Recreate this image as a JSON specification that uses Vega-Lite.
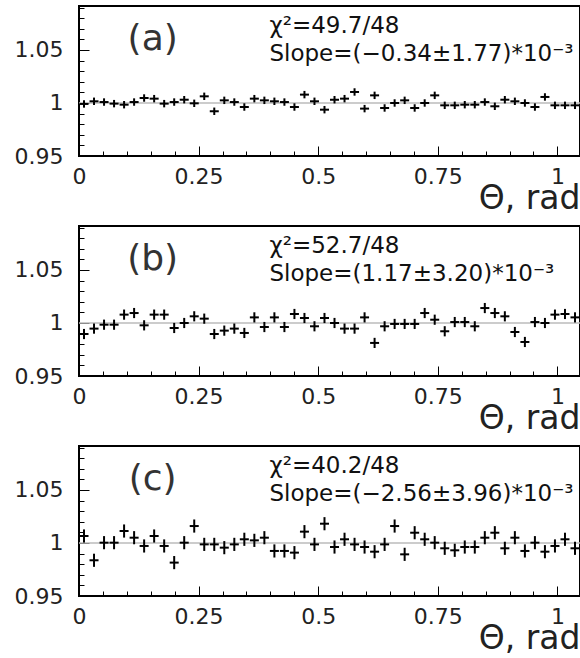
{
  "$schema": "https://vega.github.io/schema/vega-lite/v6.json",
  "padding": {"left": 13, "top": 5, "right": 0, "bottom": 0},
  "spacing": 9,
  "config": {
    "view": {"stroke": "black", "strokeWidth": 2},
    "font": "DejaVu Sans",
    "axis": {"grid": false, "domain": false, "labelFont": "DejaVu Sans", "titleFont": "DejaVu Sans"}
  },
  "datasets": {
    "a": [
      {"x": 0.010472, "y": 0.9991, "err": 0.0035}, {"x": 0.031416, "y": 1.0016, "err": 0.0035}, {"x": 0.05236, "y": 1.0009, "err": 0.0035}, {"x": 0.073304, "y": 0.9994, "err": 0.0035}, {"x": 0.094248, "y": 0.9984, "err": 0.0035},
      {"x": 0.115192, "y": 1.0009, "err": 0.0035}, {"x": 0.136136, "y": 1.0047, "err": 0.0035}, {"x": 0.15708, "y": 1.0041, "err": 0.0035}, {"x": 0.178024, "y": 0.9994, "err": 0.0035}, {"x": 0.198968, "y": 1.0009, "err": 0.0035},
      {"x": 0.219912, "y": 1.0031, "err": 0.0035}, {"x": 0.240856, "y": 0.9997, "err": 0.0035}, {"x": 0.2618, "y": 1.0063, "err": 0.0035}, {"x": 0.282744, "y": 0.9922, "err": 0.0035}, {"x": 0.303688, "y": 1.0025, "err": 0.0035},
      {"x": 0.324632, "y": 1.0009, "err": 0.0035}, {"x": 0.345576, "y": 0.9962, "err": 0.0035}, {"x": 0.36652, "y": 1.0041, "err": 0.0035}, {"x": 0.387464, "y": 1.0025, "err": 0.0035}, {"x": 0.408408, "y": 1.0016, "err": 0.0035},
      {"x": 0.429352, "y": 1.0009, "err": 0.0035}, {"x": 0.450296, "y": 0.9962, "err": 0.0035}, {"x": 0.47124, "y": 1.0079, "err": 0.0035}, {"x": 0.492184, "y": 1.0016, "err": 0.0035}, {"x": 0.513128, "y": 0.9937, "err": 0.0035},
      {"x": 0.534072, "y": 1.0031, "err": 0.0035}, {"x": 0.555016, "y": 1.0041, "err": 0.0035}, {"x": 0.57596, "y": 1.0104, "err": 0.0035}, {"x": 0.596904, "y": 0.9947, "err": 0.0035}, {"x": 0.617848, "y": 1.0072, "err": 0.0035},
      {"x": 0.638792, "y": 0.9953, "err": 0.0035}, {"x": 0.659736, "y": 1.0, "err": 0.0035}, {"x": 0.68068, "y": 1.0025, "err": 0.0035}, {"x": 0.701624, "y": 0.9953, "err": 0.0035}, {"x": 0.722568, "y": 1.0, "err": 0.0035},
      {"x": 0.743512, "y": 1.0072, "err": 0.0035}, {"x": 0.764456, "y": 0.9978, "err": 0.0035}, {"x": 0.7854, "y": 0.9978, "err": 0.0035}, {"x": 0.806344, "y": 0.9984, "err": 0.0035}, {"x": 0.827288, "y": 0.9984, "err": 0.0035},
      {"x": 0.848232, "y": 1.0009, "err": 0.0035}, {"x": 0.869176, "y": 0.9969, "err": 0.0035}, {"x": 0.89012, "y": 1.0031, "err": 0.0035}, {"x": 0.911064, "y": 1.0016, "err": 0.0035}, {"x": 0.932008, "y": 1.0, "err": 0.0035},
      {"x": 0.952952, "y": 0.9962, "err": 0.0035}, {"x": 0.973896, "y": 1.0057, "err": 0.0035}, {"x": 0.99484, "y": 0.9978, "err": 0.0035}, {"x": 1.015784, "y": 0.9978, "err": 0.0035}, {"x": 1.036728, "y": 0.9978, "err": 0.0035}
    ],
    "b": [
      {"x": 0.010472, "y": 0.9896, "err": 0.0048}, {"x": 0.031416, "y": 0.9947, "err": 0.0048}, {"x": 0.05236, "y": 0.9984, "err": 0.0048}, {"x": 0.073304, "y": 0.9984, "err": 0.0048}, {"x": 0.094248, "y": 1.0079, "err": 0.0048},
      {"x": 0.115192, "y": 1.0094, "err": 0.0048}, {"x": 0.136136, "y": 0.9978, "err": 0.0048}, {"x": 0.15708, "y": 1.0079, "err": 0.0048}, {"x": 0.178024, "y": 1.0079, "err": 0.0048}, {"x": 0.198968, "y": 0.9953, "err": 0.0048},
      {"x": 0.219912, "y": 1.0, "err": 0.0048}, {"x": 0.240856, "y": 1.0063, "err": 0.0048}, {"x": 0.2618, "y": 1.0041, "err": 0.0048}, {"x": 0.282744, "y": 0.9896, "err": 0.0048}, {"x": 0.303688, "y": 0.9928, "err": 0.0048},
      {"x": 0.324632, "y": 0.9947, "err": 0.0048}, {"x": 0.345576, "y": 0.9906, "err": 0.0048}, {"x": 0.36652, "y": 1.0053, "err": 0.0048}, {"x": 0.387464, "y": 0.9962, "err": 0.0048}, {"x": 0.408408, "y": 1.0053, "err": 0.0048},
      {"x": 0.429352, "y": 0.9962, "err": 0.0048}, {"x": 0.450296, "y": 1.0085, "err": 0.0048}, {"x": 0.47124, "y": 1.0047, "err": 0.0048}, {"x": 0.492184, "y": 0.9969, "err": 0.0048}, {"x": 0.513128, "y": 1.0047, "err": 0.0048},
      {"x": 0.534072, "y": 1.0, "err": 0.0048}, {"x": 0.555016, "y": 0.9947, "err": 0.0048}, {"x": 0.57596, "y": 0.9947, "err": 0.0048}, {"x": 0.596904, "y": 1.0053, "err": 0.0048}, {"x": 0.617848, "y": 0.9812, "err": 0.0048},
      {"x": 0.638792, "y": 0.9969, "err": 0.0048}, {"x": 0.659736, "y": 0.9991, "err": 0.0048}, {"x": 0.68068, "y": 0.9991, "err": 0.0048}, {"x": 0.701624, "y": 0.9991, "err": 0.0048}, {"x": 0.722568, "y": 1.0094, "err": 0.0048},
      {"x": 0.743512, "y": 1.0031, "err": 0.0048}, {"x": 0.764456, "y": 0.9922, "err": 0.0048}, {"x": 0.7854, "y": 1.0009, "err": 0.0048}, {"x": 0.806344, "y": 1.0009, "err": 0.0048}, {"x": 0.827288, "y": 0.9969, "err": 0.0048},
      {"x": 0.848232, "y": 1.0141, "err": 0.0048}, {"x": 0.869176, "y": 1.0094, "err": 0.0048}, {"x": 0.89012, "y": 1.0063, "err": 0.0048}, {"x": 0.911064, "y": 0.9915, "err": 0.0048}, {"x": 0.932008, "y": 0.9821, "err": 0.0048},
      {"x": 0.952952, "y": 1.0009, "err": 0.0048}, {"x": 0.973896, "y": 1.0, "err": 0.0048}, {"x": 0.99484, "y": 1.0079, "err": 0.0048}, {"x": 1.015784, "y": 1.0085, "err": 0.0048}, {"x": 1.036728, "y": 1.0053, "err": 0.0048}
    ],
    "c": [
      {"x": 0.010472, "y": 1.0066, "err": 0.0062}, {"x": 0.031416, "y": 0.9837, "err": 0.0062}, {"x": 0.05236, "y": 1.0003, "err": 0.0062}, {"x": 0.073304, "y": 1.0003, "err": 0.0062}, {"x": 0.094248, "y": 1.0113, "err": 0.0062},
      {"x": 0.115192, "y": 1.005, "err": 0.0062}, {"x": 0.136136, "y": 0.9972, "err": 0.0062}, {"x": 0.15708, "y": 1.0066, "err": 0.0062}, {"x": 0.178024, "y": 0.9972, "err": 0.0062}, {"x": 0.198968, "y": 0.9815, "err": 0.0062},
      {"x": 0.219912, "y": 1.0003, "err": 0.0062}, {"x": 0.240856, "y": 1.016, "err": 0.0062}, {"x": 0.2618, "y": 0.9987, "err": 0.0062}, {"x": 0.282744, "y": 0.9987, "err": 0.0062}, {"x": 0.303688, "y": 0.9956, "err": 0.0062},
      {"x": 0.324632, "y": 0.9987, "err": 0.0062}, {"x": 0.345576, "y": 1.0035, "err": 0.0062}, {"x": 0.36652, "y": 1.0025, "err": 0.0062}, {"x": 0.387464, "y": 1.005, "err": 0.0062}, {"x": 0.408408, "y": 0.9925, "err": 0.0062},
      {"x": 0.429352, "y": 0.9925, "err": 0.0062}, {"x": 0.450296, "y": 0.9909, "err": 0.0062}, {"x": 0.47124, "y": 1.0107, "err": 0.0062}, {"x": 0.492184, "y": 0.9987, "err": 0.0062}, {"x": 0.513128, "y": 1.0182, "err": 0.0062},
      {"x": 0.534072, "y": 0.9962, "err": 0.0062}, {"x": 0.555016, "y": 1.0035, "err": 0.0062}, {"x": 0.57596, "y": 0.9987, "err": 0.0062}, {"x": 0.596904, "y": 0.9962, "err": 0.0062}, {"x": 0.617848, "y": 0.9918, "err": 0.0062},
      {"x": 0.638792, "y": 0.9987, "err": 0.0062}, {"x": 0.659736, "y": 1.016, "err": 0.0062}, {"x": 0.68068, "y": 0.9893, "err": 0.0062}, {"x": 0.701624, "y": 1.0097, "err": 0.0062}, {"x": 0.722568, "y": 1.0035, "err": 0.0062},
      {"x": 0.743512, "y": 1.0003, "err": 0.0062}, {"x": 0.764456, "y": 0.995, "err": 0.0062}, {"x": 0.7854, "y": 0.9931, "err": 0.0062}, {"x": 0.806344, "y": 0.9962, "err": 0.0062}, {"x": 0.827288, "y": 0.9962, "err": 0.0062},
      {"x": 0.848232, "y": 1.005, "err": 0.0062}, {"x": 0.869176, "y": 1.0097, "err": 0.0062}, {"x": 0.89012, "y": 0.995, "err": 0.0062}, {"x": 0.911064, "y": 1.005, "err": 0.0062}, {"x": 0.932008, "y": 0.9925, "err": 0.0062},
      {"x": 0.952952, "y": 1.0003, "err": 0.0062}, {"x": 0.973896, "y": 0.9918, "err": 0.0062}, {"x": 0.99484, "y": 0.9972, "err": 0.0062}, {"x": 1.015784, "y": 1.0035, "err": 0.0062}, {"x": 1.036728, "y": 0.995, "err": 0.0062}
    ]
  },
  "vconcat": [
    {
      "width": 501, "height": 150,
      "resolve": {"scale": {"x": "independent", "y": "independent"}, "axis": {"x": "independent", "y": "independent"}},
      "layer": [
        {"data": {"values": [{}]}, "mark": {"type": "rule", "color": "#bbbbbb", "strokeWidth": 1.5},
         "encoding": {
           "y": {"datum": 1, "type": "quantitative", "scale": {"domain": [0.95, 1.0915], "nice": false, "zero": false}, "axis": null}
         }},
        {"data": {"name": "a"}, "mark": {"type": "errorbar", "color": "black", "thickness": 2},
         "encoding": {
           "x": {"field": "x", "type": "quantitative", "scale": {"domain": [0, 1.0472], "nice": false, "zero": false}, "axis": null},
           "y": {"field": "y", "type": "quantitative", "scale": {"domain": [0.95, 1.0915], "nice": false, "zero": false}, "axis": null},
           "yError": {"field": "err"}
         }},
        {"data": {"name": "a"}, "mark": {"type": "tick", "orient": "horizontal", "color": "black", "thickness": 2, "size": 9, "opacity": 1},
         "encoding": {
           "x": {"field": "x", "type": "quantitative", "scale": {"domain": [0, 1.0472], "nice": false, "zero": false}, "axis": {"orient": "bottom", "values": [0, 0.25, 0.5, 0.75, 1], "format": ".2~f", "ticks": false, "labelPadding": 10, "labelFontSize": 22, "labelColor": "#222", "labelFlush": false, "labelOverlap": false, "title": "Θ, rad", "titleFontSize": 33, "titleFontWeight": "normal", "titleColor": "#222", "titleAnchor": "end", "titleAlign": "right", "titlePadding": -5}},
           "y": {"field": "y", "type": "quantitative", "scale": {"domain": [0.95, 1.0915], "nice": false, "zero": false}, "axis": {"orient": "left", "values": [0.95, 1, 1.05], "format": ".2~f", "ticks": false, "labelPadding": 16, "labelFontSize": 22, "labelColor": "#222", "labelFlush": false, "labelOverlap": false, "title": null}}
         }},
        {"data": {"values": [{"label": "(a)", "x": 0.154, "y": 1.05}]}, "mark": {"type": "text", "fontSize": 36, "align": "center", "baseline": "alphabetic", "color": "#333"},
         "encoding": {
           "x": {"field": "x", "type": "quantitative", "scale": {"domain": [0, 1.0472], "nice": false, "zero": false}, "axis": {"orient": "bottom", "offset": -10, "values": [0, 0.25, 0.5, 0.75, 1], "labels": false, "tickSize": 10, "tickColor": "black", "tickWidth": 1, "title": null}},
           "y": {"field": "y", "type": "quantitative", "scale": {"domain": [0.95, 1.0915], "nice": false, "zero": false}, "axis": {"orient": "left", "offset": -10, "values": [0.95, 1, 1.05], "labels": false, "tickSize": 10, "tickColor": "black", "tickWidth": 1, "title": null}},
           "text": {"field": "label"}
         }},
        {"data": {"values": [{"label": "χ²=49.7/48\nSlope=(−0.34±1.77)*10⁻³", "x": 0.398, "y": 1.066}]}, "mark": {"type": "text", "fontSize": 23, "align": "left", "baseline": "alphabetic", "color": "#111", "lineBreak": "\n", "lineHeight": 28},
         "encoding": {
           "x": {"field": "x", "type": "quantitative", "scale": {"domain": [0, 1.0472], "nice": false, "zero": false}, "axis": {"orient": "bottom", "offset": -5, "values": [0.05,0.1,0.15,0.2,0.3,0.35,0.4,0.45,0.55,0.6,0.65,0.7,0.8,0.85,0.9,0.95,1.0], "labels": false, "tickSize": 5, "tickColor": "black", "tickWidth": 1, "title": null}},
           "y": {"field": "y", "type": "quantitative", "scale": {"domain": [0.95, 1.0915], "nice": false, "zero": false}, "axis": {"orient": "left", "offset": -5, "values": [0.96,0.97,0.98,0.99,1.01,1.02,1.03,1.04,1.06,1.07,1.08,1.09], "labels": false, "tickSize": 5, "tickColor": "black", "tickWidth": 1, "title": null}},
           "text": {"field": "label"}
         }}
      ]
    },
    {
      "width": 501, "height": 150,
      "resolve": {"scale": {"x": "independent", "y": "independent"}, "axis": {"x": "independent", "y": "independent"}},
      "layer": [
        {"data": {"values": [{}]}, "mark": {"type": "rule", "color": "#bbbbbb", "strokeWidth": 1.5},
         "encoding": {
           "y": {"datum": 1, "type": "quantitative", "scale": {"domain": [0.95, 1.0915], "nice": false, "zero": false}, "axis": null}
         }},
        {"data": {"name": "b"}, "mark": {"type": "errorbar", "color": "black", "thickness": 2},
         "encoding": {
           "x": {"field": "x", "type": "quantitative", "scale": {"domain": [0, 1.0472], "nice": false, "zero": false}, "axis": null},
           "y": {"field": "y", "type": "quantitative", "scale": {"domain": [0.95, 1.0915], "nice": false, "zero": false}, "axis": null},
           "yError": {"field": "err"}
         }},
        {"data": {"name": "b"}, "mark": {"type": "tick", "orient": "horizontal", "color": "black", "thickness": 2, "size": 9, "opacity": 1},
         "encoding": {
           "x": {"field": "x", "type": "quantitative", "scale": {"domain": [0, 1.0472], "nice": false, "zero": false}, "axis": {"orient": "bottom", "values": [0, 0.25, 0.5, 0.75, 1], "format": ".2~f", "ticks": false, "labelPadding": 10, "labelFontSize": 22, "labelColor": "#222", "labelFlush": false, "labelOverlap": false, "title": "Θ, rad", "titleFontSize": 33, "titleFontWeight": "normal", "titleColor": "#222", "titleAnchor": "end", "titleAlign": "right", "titlePadding": -5}},
           "y": {"field": "y", "type": "quantitative", "scale": {"domain": [0.95, 1.0915], "nice": false, "zero": false}, "axis": {"orient": "left", "values": [0.95, 1, 1.05], "format": ".2~f", "ticks": false, "labelPadding": 16, "labelFontSize": 22, "labelColor": "#222", "labelFlush": false, "labelOverlap": false, "title": null}}
         }},
        {"data": {"values": [{"label": "(b)", "x": 0.154, "y": 1.05}]}, "mark": {"type": "text", "fontSize": 36, "align": "center", "baseline": "alphabetic", "color": "#333"},
         "encoding": {
           "x": {"field": "x", "type": "quantitative", "scale": {"domain": [0, 1.0472], "nice": false, "zero": false}, "axis": {"orient": "bottom", "offset": -10, "values": [0, 0.25, 0.5, 0.75, 1], "labels": false, "tickSize": 10, "tickColor": "black", "tickWidth": 1, "title": null}},
           "y": {"field": "y", "type": "quantitative", "scale": {"domain": [0.95, 1.0915], "nice": false, "zero": false}, "axis": {"orient": "left", "offset": -10, "values": [0.95, 1, 1.05], "labels": false, "tickSize": 10, "tickColor": "black", "tickWidth": 1, "title": null}},
           "text": {"field": "label"}
         }},
        {"data": {"values": [{"label": "χ²=52.7/48\nSlope=(1.17±3.20)*10⁻³", "x": 0.398, "y": 1.066}]}, "mark": {"type": "text", "fontSize": 23, "align": "left", "baseline": "alphabetic", "color": "#111", "lineBreak": "\n", "lineHeight": 28},
         "encoding": {
           "x": {"field": "x", "type": "quantitative", "scale": {"domain": [0, 1.0472], "nice": false, "zero": false}, "axis": {"orient": "bottom", "offset": -5, "values": [0.05,0.1,0.15,0.2,0.3,0.35,0.4,0.45,0.55,0.6,0.65,0.7,0.8,0.85,0.9,0.95,1.0], "labels": false, "tickSize": 5, "tickColor": "black", "tickWidth": 1, "title": null}},
           "y": {"field": "y", "type": "quantitative", "scale": {"domain": [0.95, 1.0915], "nice": false, "zero": false}, "axis": {"orient": "left", "offset": -5, "values": [0.96,0.97,0.98,0.99,1.01,1.02,1.03,1.04,1.06,1.07,1.08,1.09], "labels": false, "tickSize": 5, "tickColor": "black", "tickWidth": 1, "title": null}},
           "text": {"field": "label"}
         }}
      ]
    },
    {
      "width": 501, "height": 150,
      "resolve": {"scale": {"x": "independent", "y": "independent"}, "axis": {"x": "independent", "y": "independent"}},
      "layer": [
        {"data": {"values": [{}]}, "mark": {"type": "rule", "color": "#bbbbbb", "strokeWidth": 1.5},
         "encoding": {
           "y": {"datum": 1, "type": "quantitative", "scale": {"domain": [0.95, 1.0915], "nice": false, "zero": false}, "axis": null}
         }},
        {"data": {"name": "c"}, "mark": {"type": "errorbar", "color": "black", "thickness": 2},
         "encoding": {
           "x": {"field": "x", "type": "quantitative", "scale": {"domain": [0, 1.0472], "nice": false, "zero": false}, "axis": null},
           "y": {"field": "y", "type": "quantitative", "scale": {"domain": [0.95, 1.0915], "nice": false, "zero": false}, "axis": null},
           "yError": {"field": "err"}
         }},
        {"data": {"name": "c"}, "mark": {"type": "tick", "orient": "horizontal", "color": "black", "thickness": 2, "size": 9, "opacity": 1},
         "encoding": {
           "x": {"field": "x", "type": "quantitative", "scale": {"domain": [0, 1.0472], "nice": false, "zero": false}, "axis": {"orient": "bottom", "values": [0, 0.25, 0.5, 0.75, 1], "format": ".2~f", "ticks": false, "labelPadding": 10, "labelFontSize": 22, "labelColor": "#222", "labelFlush": false, "labelOverlap": false, "title": "Θ, rad", "titleFontSize": 33, "titleFontWeight": "normal", "titleColor": "#222", "titleAnchor": "end", "titleAlign": "right", "titlePadding": -5}},
           "y": {"field": "y", "type": "quantitative", "scale": {"domain": [0.95, 1.0915], "nice": false, "zero": false}, "axis": {"orient": "left", "values": [0.95, 1, 1.05], "format": ".2~f", "ticks": false, "labelPadding": 16, "labelFontSize": 22, "labelColor": "#222", "labelFlush": false, "labelOverlap": false, "title": null}}
         }},
        {"data": {"values": [{"label": "(c)", "x": 0.154, "y": 1.05}]}, "mark": {"type": "text", "fontSize": 36, "align": "center", "baseline": "alphabetic", "color": "#333"},
         "encoding": {
           "x": {"field": "x", "type": "quantitative", "scale": {"domain": [0, 1.0472], "nice": false, "zero": false}, "axis": {"orient": "bottom", "offset": -10, "values": [0, 0.25, 0.5, 0.75, 1], "labels": false, "tickSize": 10, "tickColor": "black", "tickWidth": 1, "title": null}},
           "y": {"field": "y", "type": "quantitative", "scale": {"domain": [0.95, 1.0915], "nice": false, "zero": false}, "axis": {"orient": "left", "offset": -10, "values": [0.95, 1, 1.05], "labels": false, "tickSize": 10, "tickColor": "black", "tickWidth": 1, "title": null}},
           "text": {"field": "label"}
         }},
        {"data": {"values": [{"label": "χ²=40.2/48\nSlope=(−2.56±3.96)*10⁻³", "x": 0.398, "y": 1.066}]}, "mark": {"type": "text", "fontSize": 23, "align": "left", "baseline": "alphabetic", "color": "#111", "lineBreak": "\n", "lineHeight": 28},
         "encoding": {
           "x": {"field": "x", "type": "quantitative", "scale": {"domain": [0, 1.0472], "nice": false, "zero": false}, "axis": {"orient": "bottom", "offset": -5, "values": [0.05,0.1,0.15,0.2,0.3,0.35,0.4,0.45,0.55,0.6,0.65,0.7,0.8,0.85,0.9,0.95,1.0], "labels": false, "tickSize": 5, "tickColor": "black", "tickWidth": 1, "title": null}},
           "y": {"field": "y", "type": "quantitative", "scale": {"domain": [0.95, 1.0915], "nice": false, "zero": false}, "axis": {"orient": "left", "offset": -5, "values": [0.96,0.97,0.98,0.99,1.01,1.02,1.03,1.04,1.06,1.07,1.08,1.09], "labels": false, "tickSize": 5, "tickColor": "black", "tickWidth": 1, "title": null}},
           "text": {"field": "label"}
         }}
      ]
    }
  ]
}
